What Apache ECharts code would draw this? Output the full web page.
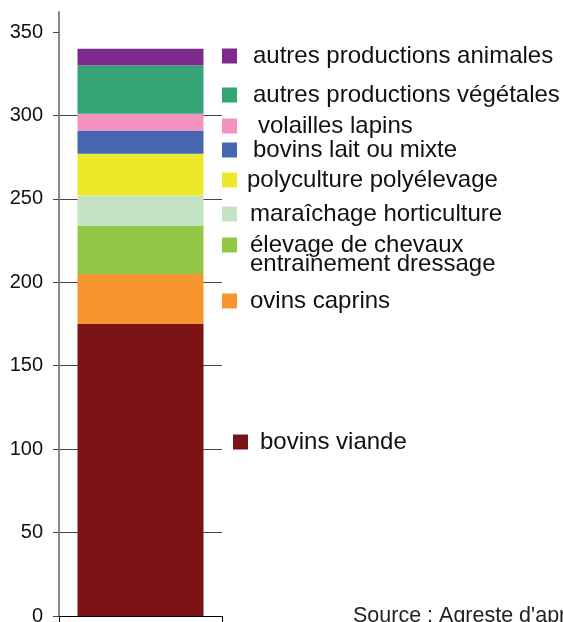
<!DOCTYPE html>
<html>
<head>
<meta charset="utf-8">
<script src="https://cdn.jsdelivr.net/npm/echarts@6/dist/echarts.min.js"></script>
<style>
  html, body { margin: 0; padding: 0; background: #ffffff; }
  #chart { width: 563px; height: 622px; }
</style>
</head>
<body>
<div id="chart"></div>
<script>
// Farms by type (stacked, bottom to top)
const category = ['exploitations'];
const seriesNames = [
  'bovins viande',
  'ovins caprins',
  'élevage de chevaux\nentrainement dressage',
  'maraîchage horticulture',
  'polyculture polyélevage',
  'bovins lait ou mixte',
  'volailles lapins',
  'autres productions végétales',
  'autres productions animales'
];
const seriesValues = [175, 30, 29, 18, 25, 14, 10, 29, 10];
const seriesColors = [
  '#7b1315', '#f7962e', '#92c746', '#c4e3c4', '#ede82a',
  '#4667b0', '#f393bf', '#34a476', '#7e2a8c'
];
const yTicks = [0, 50, 100, 150, 200, 250, 300, 350];
const sourceText = "Source : Agreste d'après recensement agricole 2010";

// Legend entries placement: [left, iconCenterY, textOffset]
const legendPlaces = [
  [233, 442, 7],
  [222, 301, 8],
  [222, 245, 8],
  [222, 214, 8],
  [222, 180, 5],
  [222, 150, 11],
  [222, 126, 16],
  [222, 95, 11],
  [222, 56, 11]
];

const FONT = '"Liberation Sans", Arial, sans-serif';
const LEG_FS = 24;
const LEG_LH = 19;

const legends = seriesNames.map((name, i) => {
  const [left, cy, gap] = legendPlaces[i];
  const multi = name.indexOf('\n') >= 0;
  // a two-line entry gets a blank leading line so its first line sits on the icon
  const lines = multi ? 3 : 1;
  const pad = multi ? [10, 0, 0, gap] : [0, 0, 6, gap];
  const boxH = lines * LEG_LH + pad[0] + pad[2];
  return {
    data: [name],
    left: left,
    top: cy - boxH / 2,
    padding: 0,
    icon: 'rect',
    itemWidth: 15,
    itemHeight: 15,
    selectedMode: false,
    formatter: multi ? (n) => '\n' + n : '{name}',
    textStyle: {
      fontFamily: FONT,
      fontSize: LEG_FS,
      lineHeight: LEG_LH,
      color: '#111',
      padding: pad
    }
  };
});

const chart = echarts.init(document.getElementById('chart'), null, { renderer: 'canvas' });
chart.setOption({
  animation: false,
  backgroundColor: '#ffffff',
  title: {
    text: sourceText,
    left: 353,
    top: 605,
    padding: 0,
    textStyle: { fontFamily: FONT, fontSize: 21.5, fontWeight: 'normal', color: '#222' }
  },
  legend: legends,
  grid: { left: 59, right: 341, top: 12, bottom: 6, containLabel: false, outerBoundsMode: 'none' },
  xAxis: {
    type: 'category',
    data: category,
    axisLine: { lineStyle: { color: '#000', width: 1 } },
    axisTick: { show: true, length: 7, lineStyle: { color: '#000' } },
    axisLabel: { show: false },
    splitLine: { show: false }
  },
  yAxis: {
    type: 'value',
    min: 0,
    max: 362,
    interval: 50,
    axisLine: { show: true, lineStyle: { color: '#8a8a8a', width: 2 } },
    axisTick: {
      show: true,
      length: 6,
      customValues: yTicks,
      lineStyle: { color: '#444' }
    },
    axisLabel: {
      customValues: yTicks,
      margin: 16,
      fontFamily: FONT,
      fontSize: 20,
      color: '#111'
    },
    splitLine: { show: true, showMaxLine: false, lineStyle: { color: '#444', width: 1 } }
  },
  series: seriesNames.map((name, i) => ({
    name: name,
    type: 'bar',
    stack: 'total',
    barWidth: 126,
    data: [seriesValues[i]],
    itemStyle: { color: seriesColors[i] }
  }))
});
</script>
</body>
</html>
